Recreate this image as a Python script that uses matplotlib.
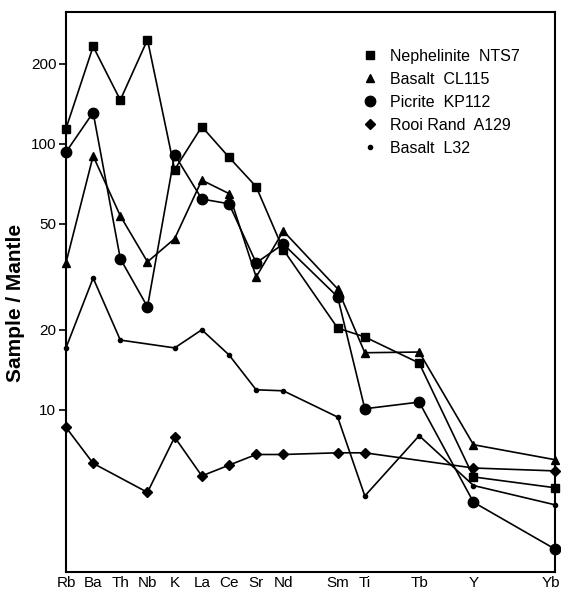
import numpy as np
import matplotlib
matplotlib.use("Agg")
import matplotlib.pyplot as plt
from matplotlib.transforms import ScaledTranslation

plt.rcParams['font.family'] = ['Liberation Sans', 'DejaVu Sans']

elements = ['Rb', 'Ba', 'Th', 'Nb', 'K', 'La', 'Ce', 'Sr', 'Nd', 'Sm', 'Ti', 'Tb', 'Y', 'Yb']
# element positions along the axis (uneven spacing, as in the original diagram)
positions = [0, 1, 2, 3, 4, 5, 6, 7, 8, 10, 11, 13, 15, 18]

nts7 = [114, 232, 146, 246, 80, 116, 89, 69, 40, 20.3, 18.8, 15.0, 5.6, 5.1]
cl115 = [35.7, 90, 53.6, 36, 44, 73, 65, 31.6, 47, 28.5, 16.4, 16.5, 7.4, 6.5]
kp112 = [93, 131, 37, 24.4, 91, 62, 59.5, 35.7, 42, 26.6, 10.1, 10.7, 4.5, 3.0]
a129 = [8.6, 6.3, np.nan, 4.9, 7.9, 5.65, 6.2, 6.8, 6.8, 6.9, 6.9, np.nan, 6.05, 5.9]
l32 = [17.1, 31.3, 18.3, np.nan, 17.1, 20.0, 16.1, 11.9, 11.8, 9.4, 4.75, 8.0, 5.2, 4.4]

series = [
    ("Nephelinite  NTS7", nts7, 's', 6),
    ("Basalt  CL115", cl115, '^', 6),
    ("Picrite  KP112", kp112, 'o', 7.5),
    ("Rooi Rand  A129", a129, 'D', 5.5),
    ("Basalt  L32", l32, 'o', 3),
]

fig = plt.figure(figsize=(5.61, 5.94), dpi=100)
ax = fig.add_axes([0.1176, 0.037, 0.8717, 0.943])

for name, vals, marker, ms in series:
    x = np.array(positions, dtype=float)
    y = np.array(vals, dtype=float)
    ok = ~np.isnan(y)
    ax.plot(x[ok], y[ok], color='black', lw=1.2, marker=marker, ms=ms,
            clip_on=False, label=name, zorder=3)

ax.set_yscale('log')
ax.set_ylim(2.46, 313)
ax.set_xlim(0, 18)

ax.set_yticks([10, 20, 50, 100, 200])
ax.set_yticklabels(['10', '20', '50', '100', '200'])
ax.yaxis.set_minor_locator(matplotlib.ticker.NullLocator())
ax.tick_params(axis='y', direction='out', length=5, width=1.2, labelsize=11, pad=2)

ax.set_xticks(positions)
ax.set_xticklabels(elements)
ax.tick_params(axis='x', length=0, labelsize=11, pad=3)
# last label sits on the figure edge; nudge it in a little
last = ax.get_xticklabels()[-1]
last.set_transform(last.get_transform() + ScaledTranslation(-4 / 100, 0, fig.dpi_scale_trans))

for s in ax.spines.values():
    s.set_linewidth(1.5)

ax.set_ylabel('Sample / Mantle', fontsize=15, fontweight='bold')
ax.yaxis.set_label_coords(-0.083, 0.48)

leg = ax.legend(loc='upper right', bbox_to_anchor=(0.94, 0.945), frameon=False,
                fontsize=11.5, handlelength=0.6, handletextpad=0.9,
                labelspacing=0.5, borderaxespad=0)
for h in leg.legend_handles:
    h.set_linestyle('None')

fig.savefig('out.png', dpi=100)
